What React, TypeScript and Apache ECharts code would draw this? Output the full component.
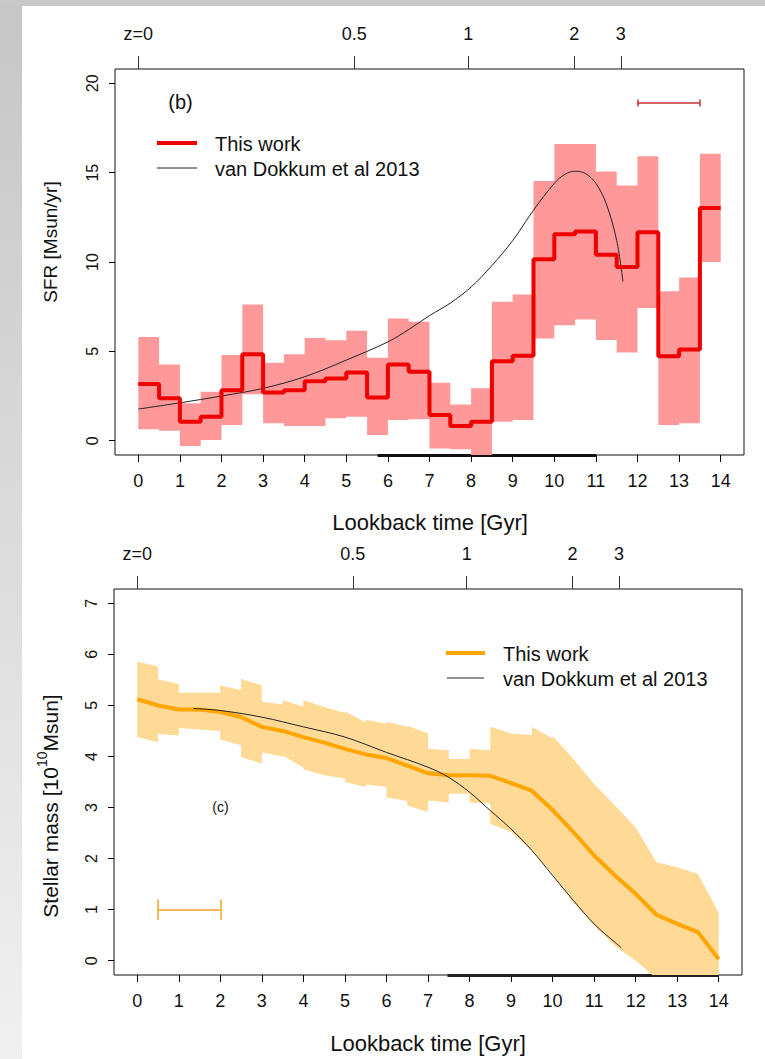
import React, { useEffect, useRef } from "react";
import * as echarts from "echarts";

const FONT = '"Liberation Sans", Arial, Helvetica, sans-serif';

// ---- shared axes ----
const xTicks = [0, 1, 2, 3, 4, 5, 6, 7, 8, 9, 10, 11, 12, 13, 14];
const zLabels = ["z=0", "0.5", "1", "2", "3"];
const zLookback = [0, 5.19, 7.93, 10.48, 11.6];
const sfrTicks = [0, 5, 10, 15, 20];
const massTicks = [0, 1, 2, 3, 4, 5, 6, 7];

// ---- panel (b): SFR ----
const sfrBinStart = [0, 0.5, 1, 1.5, 2, 2.5, 3, 3.5, 4, 4.5, 5, 5.5, 6, 6.5, 7, 7.5, 8, 8.5, 9, 9.5, 10, 10.5, 11, 11.5, 12, 12.5, 13, 13.5];
const sfrBinEnd = 14;
const sfrValue = [3.17, 2.37, 1.06, 1.34, 2.83, 4.84, 2.7, 2.83, 3.33, 3.48, 3.82, 2.42, 4.27, 3.86, 1.44, 0.82, 1.06, 4.45, 4.75, 10.15, 11.55, 11.7, 10.41, 9.72, 11.66, 4.73, 5.1, 13.02];
const sfrLower = [0.64, 0.56, -0.3, 0.04, 0.88, 2.6, 0.97, 0.82, 0.82, 1.25, 1.34, 0.32, 1.16, 1.2, -0.43, -0.48, -1.5, 1.06, 1.16, 5.72, 6.46, 6.78, 5.63, 4.94, 7.43, 0.88, 0.97, 10.0];
const sfrUpper = [5.81, 4.27, 2.1, 2.74, 4.79, 7.62, 4.36, 4.84, 5.75, 5.62, 6.15, 4.64, 6.84, 6.65, 3.24, 2.03, 2.93, 7.77, 8.18, 14.53, 16.61, 16.61, 15.07, 14.28, 15.92, 8.36, 9.13, 16.06];
const vdkSfrT = [0, 1, 2, 3, 4, 5, 6, 6.5, 7, 7.5, 8, 8.5, 9, 9.5, 10, 10.25, 10.5, 10.75, 11, 11.25, 11.5, 11.65];
const vdkSfrV = [1.77, 2.12, 2.5, 2.93, 3.58, 4.51, 5.53, 6.22, 7.0, 7.7, 8.6, 9.8, 11.2, 12.9, 14.4, 14.9, 15.08, 14.95, 14.4, 13.25, 11.2, 8.9];
const sfrErrX = [12, 13.5];
const sfrErrY = 18.9;
const sfrAxisMarkX = [5.75, 11];

// ---- panel (c): stellar mass ----
const massT = [0, 0.5, 1, 1.5, 2, 2.5, 3, 3.5, 4, 4.5, 5, 5.5, 6, 6.5, 7, 7.5, 8, 8.5, 9, 9.5, 10, 10.5, 11, 11.5, 12, 12.5, 13, 13.5, 14];
const massValue = [5.12, 5.0, 4.92, 4.92, 4.87, 4.77, 4.58, 4.5, 4.38, 4.27, 4.15, 4.04, 3.97, 3.82, 3.67, 3.63, 3.63, 3.62, 3.48, 3.33, 2.95, 2.52, 2.06, 1.67, 1.31, 0.9, 0.72, 0.56, 0.03];
const massBandT = [0, 0.5, 0.5, 1, 1, 2, 2, 2.5, 2.5, 3, 3, 3.5, 3.5, 4, 4, 4.5, 5, 5, 5.5, 5.5, 6, 6, 6.5, 6.5, 7, 7, 7.5, 7.5, 8, 8, 8.5, 8.5, 9, 9.5, 9.5, 10, 10, 10.5, 11, 11.5, 12, 12.5, 13, 13.5, 14];
const massBandLo = [4.38, 4.28, 4.44, 4.41, 4.56, 4.5, 4.33, 4.22, 3.99, 3.86, 4.08, 4.0, 4.02, 3.78, 3.75, 3.63, 3.57, 3.5, 3.4, 3.45, 3.4, 3.2, 3.13, 3.04, 2.91, 3.14, 3.1, 3.27, 3.27, 3.1, 3.08, 2.68, 2.52, 2.16, 2.16, 1.7, 1.7, 1.14, 0.69, 0.29, 0.0, -0.35, -0.6, -0.8, -0.9];
const massBandHi = [5.86, 5.76, 5.51, 5.42, 5.25, 5.25, 5.39, 5.3, 5.52, 5.39, 5.07, 5.02, 5.1, 4.98, 5.1, 4.97, 4.85, 4.88, 4.67, 4.72, 4.64, 4.68, 4.58, 4.6, 4.45, 4.15, 4.12, 3.95, 3.95, 4.15, 4.12, 4.58, 4.45, 4.42, 4.58, 4.35, 4.4, 3.95, 3.46, 3.04, 2.61, 1.93, 1.83, 1.7, 0.94];
const vdkMassT = [1.35, 2, 3, 4, 5, 6, 7, 7.5, 8, 8.5, 9, 9.5, 10, 10.5, 11, 11.5, 11.65];
const vdkMassV = [4.94, 4.9, 4.77, 4.58, 4.38, 4.08, 3.79, 3.59, 3.3, 2.94, 2.58, 2.16, 1.67, 1.18, 0.72, 0.36, 0.26];
const massErrX = [0.5, 2];
const massErrY = 1.0;
const massAxisMarkX = [7.47, 14];
const errCap = 0.2;

const RED = "#ee0000";
const PINK = "#ff9999";
const ORANGE = "#ffa500";
const LIGHT_ORANGE = "#ffd996";

const stepData = (starts: number[], vals: number[], end: number) =>
  starts.map((t, i) => [t, vals[i]]).concat([[end, vals[vals.length - 1]]]);
const pairs = (ts: number[], vs: number[]) => ts.map((t, i) => [t, vs[i]]);
// horizontal segments for every bin (for the band polygon)
const binEdges = (starts: number[], vals: number[], end: number) => {
  const out: number[][] = [];
  starts.forEach((t, i) => {
    const e = i + 1 < starts.length ? starts[i + 1] : end;
    out.push([t, vals[i]], [e, vals[i]]);
  });
  return out;
};

function errLines(xs: number[], y: number) {
  return [
    { coords: [[xs[0], y], [xs[1], y]] },
    { coords: [[xs[0], y - errCap], [xs[0], y + errCap]] },
    { coords: [[xs[1], y - errCap], [xs[1], y + errCap]] },
  ];
}

function zFormatter(v: number) {
  const i = zLookback.findIndex((z) => Math.abs(z - v) < 1e-6);
  return i >= 0 ? zLabels[i] : "";
}

function xAxes(gridIndex: number) {
  return [
    {
      type: "value",
      gridIndex,
      position: "bottom",
      min: -0.56,
      max: 14.56,
      axisLine: { show: false, onZero: false },
      splitLine: { show: false },
      axisTick: { show: true, customValues: xTicks, length: 7, lineStyle: { color: "#000" } },
      axisLabel: { customValues: xTicks, fontSize: 18, color: "#111", margin: 17, fontFamily: FONT },
    },
    {
      type: "value",
      gridIndex,
      position: "top",
      min: -0.56,
      max: 14.56,
      axisLine: { show: false, onZero: false },
      splitLine: { show: false },
      axisTick: { show: true, customValues: zLookback, length: 13, lineStyle: { color: "#333" } },
      axisLabel: { customValues: zLookback, formatter: zFormatter, fontSize: 18, color: "#111", margin: 26, fontFamily: FONT },
    },
  ];
}

function yAxis(gridIndex: number, min: number, max: number, ticks: number[]) {
  return {
    type: "value",
    gridIndex,
    position: "left",
    min,
    max,
    axisLine: { show: false, onZero: false },
    splitLine: { show: false },
    axisTick: { show: true, customValues: ticks, length: 6, lineStyle: { color: "#000" } },
    axisLabel: { customValues: ticks, rotate: 90, fontSize: 16, color: "#111", margin: 15, fontFamily: FONT },
  };
}

const base = { symbol: "none", silent: true, animation: false };

function bandSeries(xAxisIndex: number, yAxisIndex: number, upper: number[][], lower: number[][], color: string) {
  return {
    type: "custom",
    xAxisIndex,
    yAxisIndex,
    silent: true,
    animation: false,
    data: [upper[0]],
    encode: { x: 0, y: 1 },
    renderItem: (params: any, api: any) => {
      const pts = upper.concat(lower.slice().reverse()).map((p) => api.coord(p));
      const cs = params.coordSys;
      return {
        type: "polygon",
        shape: { points: pts },
        style: { fill: color, stroke: "none" },
        clipPath: { type: "rect", shape: { x: cs.x, y: cs.y, width: cs.width, height: cs.height } },
      };
    },
  };
}

function buildOption() {
  return {
    animation: false,
    textStyle: { fontFamily: FONT },
    grid: [
      { left: 115, top: 69, width: 629, height: 386, show: true, borderColor: "#111", borderWidth: 1, backgroundColor: "transparent" },
      { left: 114, top: 589, width: 628, height: 386, show: true, borderColor: "#111", borderWidth: 1, backgroundColor: "transparent" },
    ],
    xAxis: [...xAxes(0), ...xAxes(1)],
    yAxis: [yAxis(0, -0.8, 20.8, sfrTicks), yAxis(1, -0.28, 7.28, massTicks)],
    series: [
      // panel (b)
      {
        ...base, type: "lines", coordinateSystem: "cartesian2d", xAxisIndex: 0, yAxisIndex: 0, clip: false,
        data: [{ coords: [[sfrAxisMarkX[0], -0.8], [sfrAxisMarkX[1], -0.8]] }],
        lineStyle: { color: "#111", width: 3, opacity: 1 },
      },
      bandSeries(0, 0, binEdges(sfrBinStart, sfrUpper, sfrBinEnd), binEdges(sfrBinStart, sfrLower, sfrBinEnd), PINK),
      {
        ...base, type: "line", xAxisIndex: 0, yAxisIndex: 0, smooth: 0.35,
        data: pairs(vdkSfrT, vdkSfrV), lineStyle: { color: "#222", width: 1 },
      },
      {
        ...base, type: "line", xAxisIndex: 0, yAxisIndex: 0, step: "end",
        data: stepData(sfrBinStart, sfrValue, sfrBinEnd), lineStyle: { color: RED, width: 4 },
      },
      {
        ...base, type: "lines", coordinateSystem: "cartesian2d", xAxisIndex: 0, yAxisIndex: 0,
        data: errLines(sfrErrX, sfrErrY), lineStyle: { color: "#c83030", width: 1.5, opacity: 1 },
      },
      // panel (c)
      {
        ...base, type: "lines", coordinateSystem: "cartesian2d", xAxisIndex: 2, yAxisIndex: 1, clip: false,
        data: [{ coords: [[massAxisMarkX[0], -0.28], [massAxisMarkX[1], -0.28]] }],
        lineStyle: { color: "#222", width: 3, opacity: 1 },
      },
      bandSeries(2, 1, pairs(massBandT, massBandHi), pairs(massBandT, massBandLo), LIGHT_ORANGE),
      {
        ...base, type: "line", xAxisIndex: 2, yAxisIndex: 1,
        data: pairs(massT, massValue), lineStyle: { color: ORANGE, width: 4 },
      },
      {
        ...base, type: "line", xAxisIndex: 2, yAxisIndex: 1, smooth: 0.35,
        data: pairs(vdkMassT, vdkMassV), lineStyle: { color: "#222", width: 1 },
      },
      {
        ...base, type: "lines", coordinateSystem: "cartesian2d", xAxisIndex: 2, yAxisIndex: 1,
        data: errLines(massErrX, massErrY), lineStyle: { color: "#f0a020", width: 1.5, opacity: 1 },
      },
    ],
    graphic: [
      {
        type: "rect", z: -10, silent: true,
        shape: { x: 0, y: 0, width: 22, height: 1059 },
        style: { fill: new echarts.graphic.LinearGradient(0, 0, 0, 1, [{ offset: 0, color: "#c6c6c6" }, { offset: 1, color: "#f0f0f0" }]) },
      },
      { type: "rect", z: -10, silent: true, shape: { x: 0, y: 0, width: 765, height: 6 }, style: { fill: "#c8c8c8" } },
      // panel (b) annotations
      { type: "text", z: 100, x: 180.5, y: 102, style: { text: "(b)", fontSize: 20, fontFamily: FONT, fill: "#111", align: "center", verticalAlign: "middle" } },
      { type: "line", z: 100, shape: { x1: 157, y1: 143, x2: 197, y2: 143 }, style: { stroke: RED, lineWidth: 4 } },
      { type: "text", z: 100, x: 215, y: 144, style: { text: "This work", fontSize: 20, fontFamily: FONT, fill: "#111", align: "left", verticalAlign: "middle" } },
      { type: "line", z: 100, shape: { x1: 157, y1: 168, x2: 197, y2: 168 }, style: { stroke: "#222", lineWidth: 1 } },
      { type: "text", z: 100, x: 215, y: 169, style: { text: "van Dokkum et al 2013", fontSize: 20, fontFamily: FONT, fill: "#111", align: "left", verticalAlign: "middle" } },
      { type: "text", z: 100, x: 430, y: 522, style: { text: "Lookback time [Gyr]", fontSize: 22, fontFamily: FONT, fill: "#111", align: "center", verticalAlign: "middle" } },
      { type: "text", z: 100, x: 50, y: 242, rotation: Math.PI / 2, style: { text: "SFR [Msun/yr]", fontSize: 19, fontFamily: FONT, fill: "#111", align: "center", verticalAlign: "middle" } },
      // panel (c) annotations
      { type: "text", z: 100, x: 220.5, y: 807, style: { text: "(c)", fontSize: 14, fontFamily: FONT, fill: "#111", align: "center", verticalAlign: "middle" } },
      { type: "line", z: 100, shape: { x1: 446, y1: 653, x2: 485, y2: 653 }, style: { stroke: ORANGE, lineWidth: 4 } },
      { type: "text", z: 100, x: 503, y: 654, style: { text: "This work", fontSize: 20, fontFamily: FONT, fill: "#111", align: "left", verticalAlign: "middle" } },
      { type: "line", z: 100, shape: { x1: 447, y1: 678, x2: 484, y2: 678 }, style: { stroke: "#222", lineWidth: 1 } },
      { type: "text", z: 100, x: 503, y: 679, style: { text: "van Dokkum et al 2013", fontSize: 20, fontFamily: FONT, fill: "#111", align: "left", verticalAlign: "middle" } },
      { type: "text", z: 100, x: 428, y: 1043, style: { text: "Lookback time [Gyr]", fontSize: 22, fontFamily: FONT, fill: "#111", align: "center", verticalAlign: "middle" } },
      {
        type: "text", z: 100, x: 48, y: 806, rotation: Math.PI / 2,
        style: {
          text: "{n|Stellar mass [10}{s|10}{n|Msun]}", fontFamily: FONT, fill: "#111", align: "center", verticalAlign: "middle",
          rich: {
            n: { fontSize: 21, lineHeight: 26, verticalAlign: "bottom", fontFamily: FONT, fill: "#111" },
            s: { fontSize: 14, lineHeight: 14, verticalAlign: "top", fontFamily: FONT, fill: "#111" },
          },
        },
      },
    ],
  };
}

export default function App() {
  const ref = useRef<HTMLDivElement>(null);
  useEffect(() => {
    if (!ref.current) return;
    const chart = echarts.init(ref.current, null, { renderer: "svg" });
    chart.setOption(buildOption() as any);
    return () => chart.dispose();
  }, []);
  return (
    <div
      ref={ref}
      style={{ position: "absolute", left: 0, top: 0, width: 765, height: 1059, background: "#ffffff" }}
    />
  );
}
